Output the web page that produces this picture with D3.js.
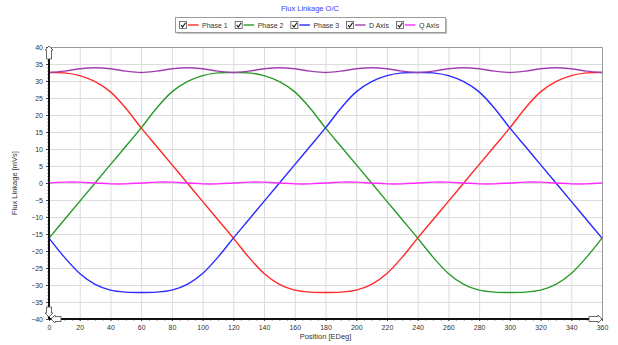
<!DOCTYPE html>
<html>
<head>
<meta charset="utf-8">
<script src="https://cdn.jsdelivr.net/npm/d3@7"></script>
<style>
  body { margin: 0; background: #fff; }
  svg { display: block; font-family: "Liberation Sans", Arial, sans-serif; }
</style>
</head>
<body>
<svg id="chart" width="618" height="345"></svg>
<script>
// chart values (10 degree steps)
const positions = d3.range(0, 361, 10);
const phase1 = [32.5, 32.4, 31.6, 29.8, 26.8, 22.0, 16.2, 10.8, 5.4, 0, -5.4, -10.8, -16.2, -21.8, -26.6, -29.8, -31.5, -32.1, -32.2,
  -32.1, -31.5, -29.8, -26.6, -21.8, -16.2, -10.8, -5.4, 0, 5.4, 10.8, 16.2, 22.0, 26.8, 29.8, 31.6, 32.4, 32.5];
const phase2 = [-16.2, -10.8, -5.4, 0, 5.4, 10.8, 16.2, 22.0, 26.8, 29.8, 31.6, 32.4, 32.5, 32.4, 31.6, 29.8, 26.8, 22.0, 16.2,
  10.8, 5.4, 0, -5.4, -10.8, -16.2, -21.8, -26.6, -29.8, -31.5, -32.1, -32.2, -32.1, -31.5, -29.8, -26.6, -21.8, -16.2];
const phase3 = [-16.2, -21.8, -26.6, -29.8, -31.5, -32.1, -32.2, -32.1, -31.5, -29.8, -26.6, -21.8, -16.2, -10.8, -5.4, 0, 5.4, 10.8, 16.2,
  22.0, 26.8, 29.8, 31.6, 32.4, 32.5, 32.4, 31.6, 29.8, 26.8, 22.0, 16.2, 10.8, 5.4, 0, -5.4, -10.8, -16.2];
const dAxis = [32.5, 32.9, 33.6, 33.9, 33.6, 32.9, 32.5, 32.9, 33.6, 33.9, 33.6, 32.9, 32.5, 32.9, 33.6, 33.9, 33.6, 32.9, 32.5,
  32.9, 33.6, 33.9, 33.6, 32.9, 32.5, 32.9, 33.6, 33.9, 33.6, 32.9, 32.5, 32.9, 33.6, 33.9, 33.6, 32.9, 32.5];
const qAxis = [0, 0.25, 0.25, 0, -0.25, -0.25, 0, 0.25, 0.25, 0, -0.25, -0.25, 0, 0.25, 0.25, 0, -0.25, -0.25, 0,
  0.25, 0.25, 0, -0.25, -0.25, 0, 0.25, 0.25, 0, -0.25, -0.25, 0, 0.25, 0.25, 0, -0.25, -0.25, 0];

const seriesNames = ["Phase 1", "Phase 2", "Phase 3", "D Axis", "Q Axis"];
const seriesValues = [phase1, phase2, phase3, dAxis, qAxis];
const seriesColors = ["#ff2a2a", "#2a9a2a", "#2a2aff", "#a040b0", "#ff2aff"];

const xTicks = d3.range(0, 361, 20);
const yTicks = d3.range(-40, 41, 5);

const title = "Flux Linkage O/C";
const xTitle = "Position [EDeg]";
const yTitle = "Flux Linkage [mVs]";

const svg = d3.select("#chart");
const x = d3.scaleLinear().domain([0, 360]).range([49, 602]);
const y = d3.scaleLinear().domain([-40, 40]).range([319, 47]);

// title
svg.append("text")
  .attr("x", 310).attr("y", 11)
  .attr("text-anchor", "middle")
  .attr("font-size", 7.5)
  .attr("fill", "#3a3aff")
  .text(title);

// legend
const legend = svg.append("g");
const legendShadow = legend.append("rect").attr("fill", "#c4c4c4");
const legendBox = legend.append("rect").attr("fill", "#fff").attr("stroke", "#9a9a9a").attr("stroke-width", 1);
let lx = 179;
const ly = 25;
seriesNames.forEach((name, i) => {
  const g = legend.append("g");
  g.append("rect")
    .attr("x", lx + 0.5).attr("y", ly - 3.5)
    .attr("width", 7).attr("height", 7)
    .attr("fill", "#fff").attr("stroke", "#555").attr("stroke-width", 0.8);
  g.append("path")
    .attr("d", `M${lx + 2},${ly} L${lx + 3.6},${ly + 2} L${lx + 6.5},${ly - 2.2}`)
    .attr("fill", "none").attr("stroke", "#111").attr("stroke-width", 1.1);
  g.append("line")
    .attr("x1", lx + 9).attr("x2", lx + 19.5)
    .attr("y1", ly).attr("y2", ly)
    .attr("stroke", seriesColors[i]).attr("stroke-width", 1.4);
  const t = g.append("text")
    .attr("x", lx + 23).attr("y", ly + 2.5)
    .attr("font-size", 7).attr("fill", "#333")
    .text(name);
  lx += 23 + t.node().getComputedTextLength() + 7;
});
legendBox.attr("x", 175.5).attr("y", 17.5).attr("width", lx - 176).attr("height", 15);
legendShadow.attr("x", 177).attr("y", 19).attr("width", lx - 176).attr("height", 15);

// grid
const grid = svg.append("g");
grid.selectAll(".vg").data(xTicks).join("line")
  .attr("x1", d => x(d) + 0.5).attr("x2", d => x(d) + 0.5)
  .attr("y1", y(40)).attr("y2", y(-40))
  .attr("stroke", "#dcdcdc").attr("stroke-width", 1);
grid.selectAll(".hg").data(yTicks).join("line")
  .attr("x1", x(0)).attr("x2", x(360))
  .attr("y1", d => y(d) + 0.5).attr("y2", d => y(d) + 0.5)
  .attr("stroke", "#dcdcdc").attr("stroke-width", 1);

// plot border (top / right)
svg.append("path")
  .attr("d", `M${x(0)},${y(40) + 0.5} H${x(360) + 0.5} V${y(-40)}`)
  .attr("fill", "none").attr("stroke", "#9a9a9a").attr("stroke-width", 1);

// series
const line = d3.line()
  .x((d, i) => x(positions[i]))
  .y(d => y(d))
  .curve(d3.curveCatmullRom);
svg.append("g").selectAll("path")
  .data(seriesValues)
  .join("path")
  .attr("d", d => line(d))
  .attr("fill", "none")
  .attr("stroke", (d, i) => seriesColors[i])
  .attr("stroke-width", 1.4);

// axes
const xAxis = svg.append("g").attr("transform", `translate(0,${y(-40)})`)
  .call(d3.axisBottom(x).tickValues(xTicks).tickSize(2).tickPadding(4).tickFormat(d3.format("d")));
xAxis.select(".domain").remove();
xAxis.selectAll("text").attr("font-size", 7).attr("fill", "#333").attr("font-family", "Liberation Sans, Arial, sans-serif");
xAxis.selectAll("line").attr("stroke", "#444");
svg.append("g").attr("transform", `translate(0,${y(-40)})`)
  .call(d3.axisBottom(x).tickValues(d3.range(0, 361, 5)).tickSize(1.5).tickFormat(""))
  .call(g => g.select(".domain").remove())
  .selectAll("line").attr("stroke", "#555");

const yAxis = svg.append("g").attr("transform", `translate(${x(0)},0)`)
  .call(d3.axisLeft(y).tickValues(yTicks).tickSize(3).tickPadding(3).tickFormat(d3.format("d")));
yAxis.select(".domain").remove();
yAxis.selectAll("text").attr("font-size", 7).attr("fill", "#333").attr("font-family", "Liberation Sans, Arial, sans-serif");
yAxis.selectAll("line").attr("stroke", "#444");
svg.append("g").attr("transform", `translate(${x(0)},0)`)
  .call(d3.axisLeft(y).tickValues(d3.range(-40, 41, 1)).tickSize(1.5).tickFormat(""))
  .call(g => g.select(".domain").remove())
  .selectAll("line").attr("stroke", "#555");

// thick axis lines
svg.append("line")
  .attr("x1", x(0)).attr("x2", x(360))
  .attr("y1", y(-40)).attr("y2", y(-40))
  .attr("stroke", "#111").attr("stroke-width", 2);
svg.append("line")
  .attr("x1", x(0)).attr("x2", x(0))
  .attr("y1", y(-40)).attr("y2", y(40))
  .attr("stroke", "#111").attr("stroke-width", 2);

// hollow arrow heads
function arrow(cx, cy, angle, len) {
  svg.append("path")
    .attr("transform", `translate(${cx},${cy}) rotate(${angle})`)
    .attr("d", `M0,-2.5 L${len - 4},-2.5 L${len - 4},-4 L${len},0 L${len - 4},4 L${len - 4},2.5 L0,2.5 Z`)
    .attr("fill", "#fff").attr("stroke", "#444").attr("stroke-width", 0.8);
}
arrow(x(0), y(40) + 12, -90, 13);
arrow(x(360) - 13, y(-40), 0, 13);
arrow(x(0), y(-40) - 12, 90, 10);
arrow(x(0) + 12, y(-40), 180, 10);

// axis titles
svg.append("text")
  .attr("x", x(180)).attr("y", 339)
  .attr("text-anchor", "middle")
  .attr("font-size", 7.5).attr("fill", "#333")
  .text(xTitle);
svg.append("text")
  .attr("transform", `translate(17,${y(0)}) rotate(-90)`)
  .attr("text-anchor", "middle")
  .attr("font-size", 7.5).attr("fill", "#333")
  .text(yTitle);
</script>
</body>
</html>
